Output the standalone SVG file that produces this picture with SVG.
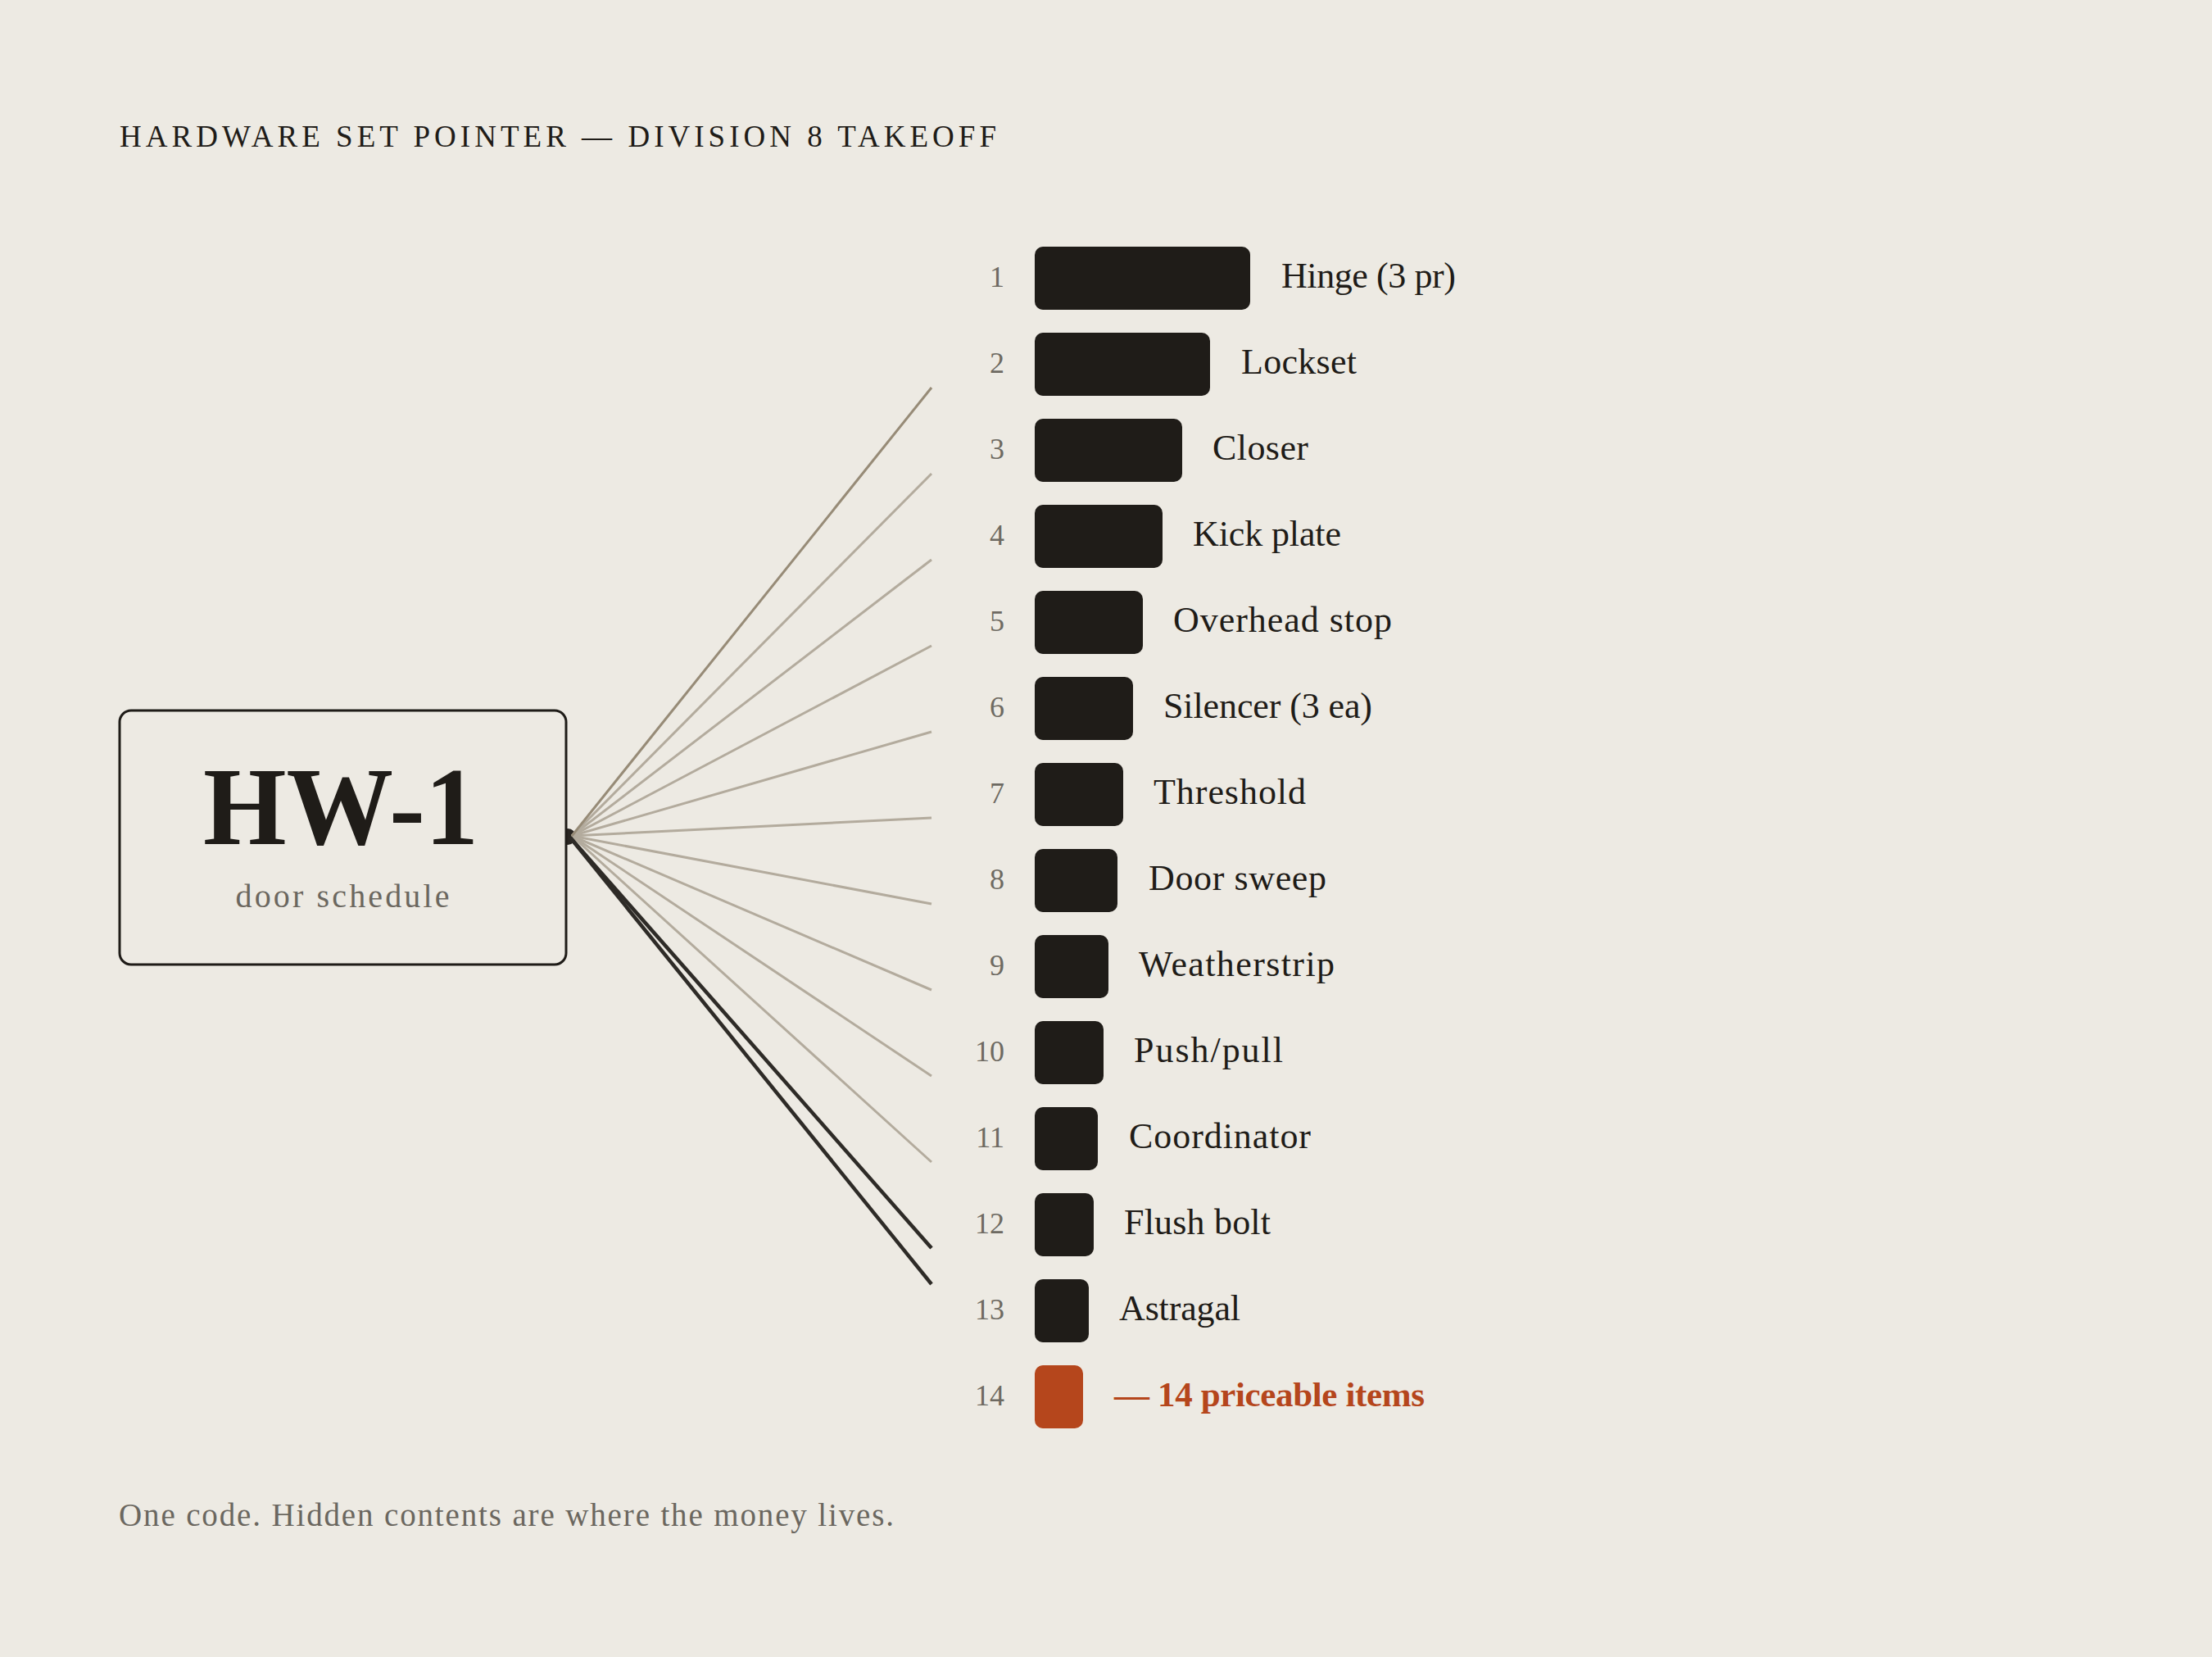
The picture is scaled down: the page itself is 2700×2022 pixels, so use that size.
<svg xmlns="http://www.w3.org/2000/svg" width="2700" height="2022" viewBox="0 0 2700 2022">
<style>
  .serif { font-family: "Liberation Serif", "DejaVu Serif", serif; }
  .title { font-size: 37px; fill: #1F1C18; }
  .num { font-size: 36px; fill: #6E6A62; text-anchor: end; }
  .lbl { font-size: 44px; fill: #1F1C18; }
  .bar { fill: #1F1C18; }
  .bar-hi { fill: #B5461C; }
  .lbl-hi { font-size: 43px; fill: #B5461C; font-weight: bold; }
  .ln-light { stroke: #B3AB9D; stroke-width: 3; fill: none; }
  .ln-mid { stroke: #978B77; stroke-width: 3; fill: none; }
  .ln-dark { stroke: #2E2B27; stroke-width: 4.5; fill: none; }
</style>
<rect x="0" y="0" width="2700" height="2022" fill="#EDEAE3"/>

<text id="title" class="serif title" x="146" y="179" textLength="1070" lengthAdjust="spacing">HARDWARE SET POINTER — DIVISION 8 TAKEOFF</text>

<g id="connectors">
  <circle cx="693" cy="1021" r="10" fill="#2A2622"/>
  <line class="ln-light" x1="698" y1="1020" x2="1137" y2="578"/>
  <line class="ln-light" x1="698" y1="1020" x2="1137" y2="683"/>
  <line class="ln-light" x1="698" y1="1020" x2="1137" y2="788"/>
  <line class="ln-light" x1="698" y1="1020" x2="1137" y2="893"/>
  <line class="ln-light" x1="698" y1="1020" x2="1137" y2="998"/>
  <line class="ln-light" x1="698" y1="1020" x2="1137" y2="1103"/>
  <line class="ln-light" x1="698" y1="1020" x2="1137" y2="1208"/>
  <line class="ln-light" x1="698" y1="1020" x2="1137" y2="1313"/>
  <line class="ln-light" x1="698" y1="1020" x2="1137" y2="1418"/>
  <line class="ln-mid" x1="698" y1="1020" x2="1137" y2="473"/>
  <line class="ln-dark" x1="696" y1="1022" x2="1137" y2="1523"/>
  <line class="ln-dark" x1="696" y1="1022" x2="1137" y2="1567"/>
</g>

<g id="hw1">
  <rect x="146" y="867" width="545" height="310" rx="14" ry="14" fill="#EDEAE3" stroke="#1F1C18" stroke-width="3"/>
  <text class="serif" x="416" y="1030" font-size="136" font-weight="bold" fill="#1F1C18" text-anchor="middle" textLength="336" lengthAdjust="spacingAndGlyphs">HW-1</text>
  <text class="serif" x="418" y="1107" font-size="40" fill="#6B675F" text-anchor="middle" textLength="261" lengthAdjust="spacing">door schedule</text>
</g>

<g id="item1"><text class="serif num" x="1226" y="350">1</text><rect class="bar" x="1263" y="301" width="263" height="77" rx="10"/><text class="serif lbl" x="1564" y="351" textLength="213" lengthAdjust="spacing">Hinge (3 pr)</text></g>
<g id="item2"><text class="serif num" x="1226" y="455">2</text><rect class="bar" x="1263" y="406" width="214" height="77" rx="10"/><text class="serif lbl" x="1515" y="456" textLength="141" lengthAdjust="spacing">Lockset</text></g>
<g id="item3"><text class="serif num" x="1226" y="560">3</text><rect class="bar" x="1263" y="511" width="180" height="77" rx="10"/><text class="serif lbl" x="1480" y="561" textLength="117" lengthAdjust="spacing">Closer</text></g>
<g id="item4"><text class="serif num" x="1226" y="665">4</text><rect class="bar" x="1263" y="616" width="156" height="77" rx="10"/><text class="serif lbl" x="1456" y="666" textLength="181" lengthAdjust="spacing">Kick plate</text></g>
<g id="item5"><text class="serif num" x="1226" y="770">5</text><rect class="bar" x="1263" y="721" width="132" height="77" rx="10"/><text class="serif lbl" x="1432" y="771" textLength="267" lengthAdjust="spacing">Overhead stop</text></g>
<g id="item6"><text class="serif num" x="1226" y="875">6</text><rect class="bar" x="1263" y="826" width="120" height="77" rx="10"/><text class="serif lbl" x="1420" y="876" textLength="255" lengthAdjust="spacing">Silencer (3 ea)</text></g>
<g id="item7"><text class="serif num" x="1226" y="980">7</text><rect class="bar" x="1263" y="931" width="108" height="77" rx="10"/><text class="serif lbl" x="1408" y="981" textLength="186" lengthAdjust="spacing">Threshold</text></g>
<g id="item8"><text class="serif num" x="1226" y="1085">8</text><rect class="bar" x="1263" y="1036" width="101" height="77" rx="10"/><text class="serif lbl" x="1402" y="1086" textLength="217" lengthAdjust="spacing">Door sweep</text></g>
<g id="item9"><text class="serif num" x="1226" y="1190">9</text><rect class="bar" x="1263" y="1141" width="90" height="77" rx="10"/><text class="serif lbl" x="1390" y="1191" textLength="239" lengthAdjust="spacing">Weatherstrip</text></g>
<g id="item10"><text class="serif num" x="1226" y="1295">10</text><rect class="bar" x="1263" y="1246" width="84" height="77" rx="10"/><text class="serif lbl" x="1384" y="1296" textLength="182" lengthAdjust="spacing">Push/pull</text></g>
<g id="item11"><text class="serif num" x="1226" y="1400">11</text><rect class="bar" x="1263" y="1351" width="77" height="77" rx="10"/><text class="serif lbl" x="1378" y="1401" textLength="222" lengthAdjust="spacing">Coordinator</text></g>
<g id="item12"><text class="serif num" x="1226" y="1505">12</text><rect class="bar" x="1263" y="1456" width="72" height="77" rx="10"/><text class="serif lbl" x="1372" y="1506" textLength="179" lengthAdjust="spacing">Flush bolt</text></g>
<g id="item13"><text class="serif num" x="1226" y="1610">13</text><rect class="bar" x="1263" y="1561" width="66" height="77" rx="10"/><text class="serif lbl" x="1366" y="1611" textLength="148" lengthAdjust="spacing">Astragal</text></g>
<g id="item14"><text class="serif num" x="1226" y="1715">14</text><rect class="bar-hi" x="1263" y="1666" width="59" height="77" rx="10"/><text class="serif lbl-hi" x="1360" y="1716" textLength="379" lengthAdjust="spacing">— 14 priceable items</text></g>

<text id="footer" class="serif" x="145" y="1862" font-size="39" fill="#6B675F" textLength="946" lengthAdjust="spacing">One code. Hidden contents are where the money lives.</text>
</svg>
